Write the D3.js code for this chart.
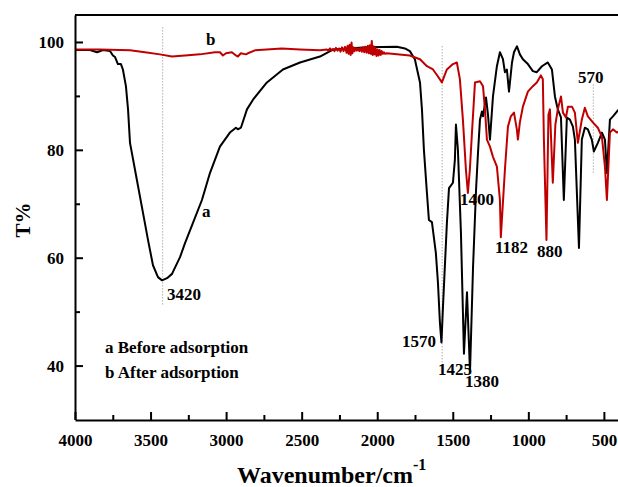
<!DOCTYPE html>
<html><head><meta charset="utf-8">
<script src="https://cdn.jsdelivr.net/npm/d3@7"></script>
<style>
html,body{margin:0;padding:0;background:#fff;}
svg text{font-family:"Liberation Serif","Times New Roman",serif;font-weight:bold;fill:#000;}
</style></head>
<body><svg id="c" width="618" height="487"></svg>
<script>
// ---- data ----
const xTicksMajor = [4000,3500,3000,2500,2000,1500,1000,500];
const xTicksMinor = [3750,3250,2750,2250,1750,1250,750];
const yTicksMajor = [40,60,80,100];
const yTicksMinor = [50,70,90];

// curve a: before adsorption  [wavenumber, T%]
const curveA = [
[4000,98.5],[3901,98.5],[3854,98.1],[3815,98.5],[3768,98.3],[3749,97.5],[3735,97.2],[3716,95.9],[3696,95.9],
[3683,94.9],[3663,91.8],[3649,87.5],[3636,81.3],[3603,76.3],[3550,68.3],[3517,63.3],[3484,58.6],[3451,56.4],
[3424,55.8],[3391,56.2],[3358,57.0],[3305,60.1],[3272,62.7],[3220,66.4],[3160,70.7],[3107,75.7],[3041,80.6],
[2975,83.2],[2935,84.1],[2922,83.8],[2902,84.1],[2862,87.5],[2822,89.3],[2730,92.5],[2624,94.9],[2511,96.2],
[2379,97.3],[2293,98.6],[2068,99.0],[1870,99.1],[1817,98.8],[1784,98.3],[1751,96.8],[1717,92.5],[1704,87.5],
[1691,80.0],[1671,72.0],[1658,67.0],[1638,66.6],[1612,60.9],[1598,55.3],[1585,47.9],[1575,44.3],[1565,50.8],
[1539,66.4],[1525,72.9],[1499,73.9],[1486,78.2],[1479,84.7],[1466,80.0],[1446,64.6],[1426,42.2],[1406,53.6],
[1386,38.8],[1366,58.2],[1346,72.6],[1333,79.5],[1320,85.6],[1307,87.1],[1300,86.2],[1280,89.7],[1267,86.5],
[1254,81.9],[1234,89.9],[1208,95.5],[1188,98.1],[1168,96.8],[1155,94.4],[1142,94.9],[1128,90.8],[1108,96.2],
[1095,98.1],[1075,99.2],[1056,97.7],[1036,96.8],[1003,95.9],[970,94.6],[944,94.4],[910,95.5],[871,96.2],
[844,94.9],[824,89.9],[805,87.5],[784,86.0],[765,70.7],[745,86.0],[725,85.6],[705,84.3],[692,81.9],[665,61.8],
[646,81.9],[626,84.1],[606,83.8],[580,81.9],[566,79.7],[540,81.3],[513,83.2],[493,81.9],[480,75.7],[460,85.6],
[440,86.2],[414,87.1],[400,87.5]
];

// curve b: after adsorption  [wavenumber, T%]
const curveB = [
[4000,98.6],[3835,98.6],[3636,98.45],[3537,98.1],[3438,97.7],[3358,97.3],[3272,97.5],[3173,97.7],[3074,98.1],
[3041,98.1],[3021,97.5],[3001,97.9],[2962,98.1],[2935,97.5],[2922,97.3],[2902,97.9],[2869,97.7],[2856,97.9],
[2809,98.45],[2631,98.8],[2511,98.6],[2379,98.45],[2333,98.6],
[2323,98.4],[2313,98.8],[2303,98.5],[2293,98.7],[2283,98.3],[2273,98.9],[2263,98.4],[2253,98.8],[2243,98.2],
[2233,99.0],[2223,98.3],[2213,99.1],[2203,98.0],[2196,99.3],[2189,97.8],[2182,99.5],[2176,97.6],[2170,99.9],
[2164,97.9],[2158,99.0],[2150,98.3],[2142,98.9],[2134,98.4],[2126,98.8],[2118,98.3],[2110,98.9],[2102,98.2],
[2094,99.0],[2086,98.1],[2078,99.1],[2070,98.0],[2062,99.3],[2055,97.9],[2048,99.4],[2042,97.8],[2036,100.2],
[2030,97.6],[2024,99.2],[2018,97.7],[2012,98.9],[2005,97.4],[1998,98.6],[1991,97.5],[1984,98.5],[1977,97.6],
[1970,98.3],[1963,97.8],[1956,98.1],[1948,97.8],
[1937,97.9],[1785,97.5],[1717,96.8],[1671,95.5],[1631,94.9],[1598,93.6],[1572,92.5],[1539,94.9],[1499,95.9],
[1473,96.2],[1453,93.1],[1433,85.6],[1413,76.3],[1400,72.0],[1387,76.3],[1373,83.2],[1353,92.5],[1320,92.7],
[1300,91.8],[1287,87.5],[1274,81.9],[1254,80.6],[1234,78.7],[1208,76.9],[1188,70.7],[1182,63.8],[1155,76.3],
[1135,84.3],[1116,86.2],[1095,86.9],[1076,83.8],[1069,81.9],[1056,85.1],[1036,88.0],[1003,90.8],[970,91.8],
[944,92.5],[917,93.8],[904,93.1],[897,81.9],[880,63.3],[867,86.5],[857,87.5],[838,73.9],[821,84.7],[805,87.5],
[784,89.9],[771,86.9],[751,86.0],[738,88.0],[711,88.0],[692,86.9],[672,81.3],[646,85.6],[626,87.8],[606,86.2],
[573,85.1],[540,84.1],[513,82.4],[493,76.9],[480,70.7],[460,83.2],[440,83.8],[414,83.2],[400,83.4]
];

// dotted marker lines: wavenumber, T range
const markerWn = [3420,1570,570];
const markerTop = [102.7,99.2,92.1];
const markerBottom = [51.2,39.6,75.4];

const peakLabels = ["3420","1570","1425","1380","1400","1182","880","570"];
const curveLabels = ["a","b"];
const legendLines = ["a Before adsorption","b After adsorption"];
const xTitle = "Wavenumber/cm";
const xTitleSup = "-1";
const yTitle = "T%";

// ---- drawing ----
const svg = d3.select("#c");
const x = d3.scaleLinear().domain([4000,400]).range([75,619]);
const y = d3.scaleLinear().domain([30,105]).range([419.5,15]);

// dotted markers
markerWn.forEach((w,i)=>{
  svg.append("line").attr("x1",x(w)).attr("x2",x(w))
    .attr("y1",y(markerTop[i])).attr("y2",y(markerBottom[i]))
    .attr("stroke","#888").attr("stroke-width",1).attr("stroke-dasharray","1,2");
});

const line = d3.line().x(d=>x(d[0])).y(d=>y(d[1]));
svg.append("path").datum(curveA).attr("d",line).attr("fill","none")
  .attr("stroke","#000").attr("stroke-width",2).attr("stroke-linejoin","round");
svg.append("path").datum(curveB).attr("d",line).attr("fill","none")
  .attr("stroke","#c00000").attr("stroke-width",2).attr("stroke-linejoin","round");

// frame
svg.append("line").attr("x1",75).attr("x2",619).attr("y1",15).attr("y2",15).attr("stroke","#000").attr("stroke-width",2);
svg.append("line").attr("x1",619).attr("x2",619).attr("y1",15).attr("y2",420).attr("stroke","#000").attr("stroke-width",2);

// axes
svg.append("g").attr("transform","translate(0,420)")
  .call(d3.axisBottom(x).tickValues(xTicksMajor).tickSizeInner(-8).tickSizeOuter(0).tickPadding(14).tickFormat(d3.format("d")));
svg.append("g").attr("transform","translate(0,420)")
  .call(d3.axisBottom(x).tickValues(xTicksMinor).tickSizeInner(-5).tickSizeOuter(0).tickFormat(""))
  .select(".domain").remove();
svg.append("g").attr("transform","translate(75,0)")
  .call(d3.axisLeft(y).tickValues(yTicksMajor).tickSizeInner(-8).tickSizeOuter(0).tickPadding(11).tickFormat(d3.format("d")));
svg.append("g").attr("transform","translate(75,0)")
  .call(d3.axisLeft(y).tickValues(yTicksMinor).tickSizeInner(-5).tickSizeOuter(0).tickFormat(""))
  .select(".domain").remove();
svg.selectAll(".domain").attr("stroke","#000").attr("stroke-width",2);
svg.selectAll(".tick line").attr("stroke","#000").attr("stroke-width",2);
svg.selectAll(".tick text").style("font-size","17px").style("font-family","Liberation Serif").style("font-weight","bold");

// peak labels [x, baseline]
const peakPos = [[167,300],[402,347],[438,375],[465,387],[460,205],[495,253],[537,257],[578,83]];
peakLabels.forEach((t,i)=>{
  svg.append("text").attr("x",peakPos[i][0]).attr("y",peakPos[i][1]).style("font-size","17px").text(t);
});
const curvePos = [[202,217],[206,45]];
curveLabels.forEach((t,i)=>{
  svg.append("text").attr("x",curvePos[i][0]).attr("y",curvePos[i][1]).style("font-size","17px").text(t);
});
legendLines.forEach((t,i)=>{
  svg.append("text").attr("x",105).attr("y",353+i*25).style("font-size","17px").text(t);
});

// titles
const xt = svg.append("text").attr("x",237).attr("y",483).style("font-size","24px");
xt.append("tspan").text(xTitle);
xt.append("tspan").attr("dy",-13).style("font-size","16px").text(xTitleSup);
svg.append("text").attr("transform","translate(30,220) rotate(-90)").attr("text-anchor","middle")
  .style("font-size","21px").text(yTitle);
</script></body></html>
